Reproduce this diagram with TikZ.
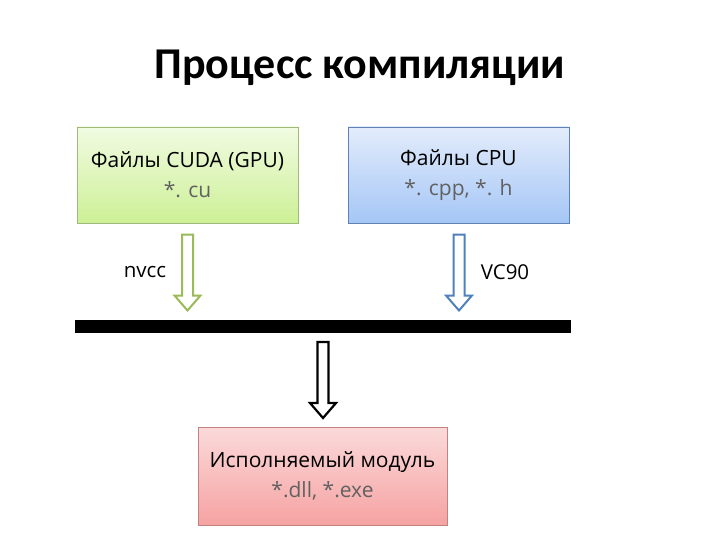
\documentclass[tikz,border=0pt]{standalone}
\usepackage{fontspec}
\setmainfont{Open Sans}
\newfontfamily\titlefont{Carlito}
\begin{document}
\begin{tikzpicture}[x=1pt,y=-1pt,
  filebox/.style={draw, line width=0.8pt, minimum width=221pt, minimum height=96pt, align=center, font=\fontsize{21}{30}\selectfont, inner sep=0pt},
  lbl/.style={font=\fontsize{20.5}{22}\selectfont, inner sep=0pt},
  pics/hollowdown/.style={code={
    \draw[line width=#1] (-5.5,0) -- (5.5,0) -- (5.5,61) -- (13,61) -- (0,76) -- (-13,61) -- (-5.5,61) -- cycle;
  }}
]
\definecolor{gtop}{RGB}{241,251,226}
\definecolor{gbot}{RGB}{205,240,150}
\definecolor{gborder}{RGB}{160,185,120}
\definecolor{btop}{RGB}{227,236,251}
\definecolor{bbot}{RGB}{165,198,246}
\definecolor{bborder}{RGB}{95,130,180}
\definecolor{rtop}{RGB}{251,218,218}
\definecolor{rbot}{RGB}{246,162,162}
\definecolor{rborder}{RGB}{195,130,130}
\definecolor{garrow}{RGB}{155,187,89}
\definecolor{barrow}{RGB}{79,129,189}
\useasboundingbox (0,0) rectangle (720,540);
\fill[white] (0,0) rectangle (720,540);

\node[font=\titlefont\bfseries\fontsize{44}{48}\selectfont, inner sep=0pt] (title) at (360,68) {Процесс компиляции};

\node[filebox, draw=gborder, top color=gtop, bottom color=gbot] (gpu) at (187.5,175) {Файлы CUDA (GPU)\\ \textcolor{black!62}{*. cu}};
\node[filebox, draw=bborder, top color=btop, bottom color=bbot] (cpu) at (458.5,175) {Файлы CPU\\ \textcolor{black!62}{*. cpp, *. h}};

\node[lbl] (nvcc) at (145,272) {nvcc};
\node[lbl] (vc) at (505,272) {VC90};

\fill[black] (75,320) rectangle (571,333);
\coordinate (barmid) at (323,326.5);

\pic[draw=garrow] at (187.5,234.5) {hollowdown=2pt};
\pic[draw=barrow] at (459,234.5) {hollowdown=2pt};
\pic[draw=black] at (323,342) {hollowdown=2.2pt};

\node[filebox, minimum width=249pt, minimum height=98pt, draw=rborder, top color=rtop, bottom color=rbot] (exe) at (322.5,476) {Исполняемый модуль\\ \textcolor{black!62}{*.dll, *.exe}};
\end{tikzpicture}
\end{document}
